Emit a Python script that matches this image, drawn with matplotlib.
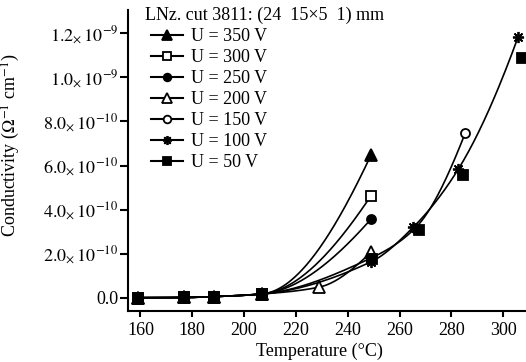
import numpy as np
import matplotlib.pyplot as plt
from matplotlib.lines import Line2D

plt.rcParams['font.family'] = 'Liberation Serif'
plt.rcParams['mathtext.fontset'] = 'stix'

# conductivity values in units of 1e-10 (Ohm^-1 cm^-1)
t_350 = [159, 177, 188.5, 207, 249]
c_350 = [0.0, 0.01, 0.05, 0.17, 6.48]
t_300 = [159, 177, 188.5, 207, 249]
c_300 = [0.0, 0.01, 0.05, 0.17, 4.63]
t_250 = [159, 177, 188.5, 207, 249]
c_250 = [0.0, 0.01, 0.05, 0.17, 3.57]
t_200 = [159, 177, 188.5, 207, 229, 249]
c_200 = [0.0, 0.01, 0.05, 0.17, 0.48, 2.06]
t_150 = [159, 177, 188.5, 207, 249, 266, 285.3]
c_150 = [0.0, 0.01, 0.05, 0.17, 1.80, 3.15, 7.46]
t_100 = [159, 177, 188.5, 207, 249, 265.3, 282.7, 305.8]
c_100 = [0.0, 0.01, 0.05, 0.17, 1.63, 3.20, 5.84, 11.85]
t_50 = [159, 177, 188.5, 207, 249.4, 267.6, 284.6, 307.2]
c_50 = [0.0, 0.01, 0.05, 0.17, 1.74, 3.07, 5.57, 10.87]

labels = ['U = 350 V', 'U = 300 V', 'U = 250 V', 'U = 200 V',
          'U = 150 V', 'U = 100 V', 'U = 50 V']
y_ticks = [0, 2, 4, 6, 8, 10, 12]
y_ticklabels = ['0.0', r'$2.0_{\times}\,10^{-10}$', r'$4.0_{\times}\,10^{-10}$',
                r'$6.0_{\times}\,10^{-10}$', r'$8.0_{\times}\,10^{-10}$',
                r'$1.0_{\times}\,10^{-9}$', r'$1.2_{\times}\,10^{-9}$']
x_ticks = [160, 180, 200, 220, 240, 260, 280, 300]


def pchip(x, y, num=300):
    # monotone cubic curve through the points (drawing only)
    x = np.asarray(x, float)
    y = np.asarray(y, float)
    h = np.diff(x)
    d = np.diff(y) / h
    m = np.zeros_like(x)
    for k in range(1, len(x) - 1):
        if d[k - 1] * d[k] > 0:
            w1 = 2 * h[k] + h[k - 1]
            w2 = h[k] + 2 * h[k - 1]
            m[k] = (w1 + w2) / (w1 / d[k - 1] + w2 / d[k])

    def end(h0, h1, d0, d1):
        mm = ((2 * h0 + h1) * d0 - h0 * d1) / (h0 + h1)
        if np.sign(mm) != np.sign(d0):
            mm = 0.0
        elif np.sign(d0) != np.sign(d1) and abs(mm) > abs(3 * d0):
            mm = 3 * d0
        return mm

    m[0] = end(h[0], h[1], d[0], d[1])
    m[-1] = end(h[-1], h[-2], d[-1], d[-2])
    xs = np.linspace(x[0], x[-1], num)
    idx = np.clip(np.searchsorted(x, xs) - 1, 0, len(h) - 1)
    t = (xs - x[idx]) / h[idx]
    h00 = 2 * t**3 - 3 * t**2 + 1
    h10 = t**3 - 2 * t**2 + t
    h01 = -2 * t**3 + 3 * t**2
    h11 = t**3 - t**2
    ys = h00 * y[idx] + h10 * h[idx] * m[idx] + h01 * y[idx + 1] + h11 * h[idx] * m[idx + 1]
    return xs, ys


fig = plt.figure(figsize=(5.26, 3.62), dpi=100)
ax = fig.add_axes([0.2433, 0.1417, 0.7567, 0.8307])

# (x, y, marker style, legend marker size, draw curve)
series = [
    (t_350, c_350, dict(marker='^', ms=8, mfc='k'), 6.5, True),
    (t_300, c_300, dict(marker='s', ms=6.5, mfc='w'), 5.5, True),
    (t_250, c_250, dict(marker='o', ms=6.5, mfc='k'), 5.5, True),
    (t_200, c_200, dict(marker='^', ms=8, mfc='w'), 6.5, True),
    (t_150, c_150, dict(marker='o', ms=6.5, mfc='w'), 5.5, True),
    (t_100, c_100, dict(marker=(8, 2, 0), ms=8, mfc='k'), 6.5, True),
    (t_50, c_50, dict(marker='s', ms=7, mfc='k'), 6, False),
]

handles = []
for (t, c, mk, leg_ms, with_line), lab in zip(series, labels):
    if with_line:
        xs, ys = pchip(t, c)
        ax.plot(xs, ys, color='k', lw=1.2, clip_on=False)
    ax.plot(t, c, ls='none', color='k', mec='k', mew=1.3, clip_on=False, zorder=3, **mk)
    hk = dict(mk)
    hk['ms'] = leg_ms
    handles.append(Line2D([], [], color='k', lw=1.5, mec='k', mew=1.3, **hk))

ax.set_xlim(155.2, 308.8)
ax.set_ylim(-0.59, 13.06)
ax.set_xticks(x_ticks)
ax.set_yticks(y_ticks)
ax.set_yticklabels(y_ticklabels)
ax.spines['top'].set_visible(False)
ax.spines['right'].set_visible(False)
ax.spines['left'].set_linewidth(1.5)
ax.spines['bottom'].set_linewidth(1.5)
ax.tick_params(axis='x', direction='out', length=4.5, width=1.5, pad=3.5, labelsize=13)
ax.tick_params(axis='y', direction='out', length=5.8, width=1.5, pad=1.2, labelsize=13)

ax.set_xlabel('Temperature (°C)', fontsize=13)
ax.set_ylabel(r'Conductivity ($\Omega^{-1}$ cm$^{-1}$)', fontsize=13)
ax.xaxis.set_label_coords(0.48, -0.108)
ax.yaxis.set_label_coords(-0.267, 0.551)

fig.text(145 / 526, 1 - 15 / 362, 'LNz. cut 3811: (24  15×5  1) mm',
         fontsize=13, ha='left', va='center')
fig.legend(handles, labels, loc='upper left', bbox_to_anchor=(151 / 526, 1 - 28 / 362),
           frameon=False, fontsize=13, borderpad=0, borderaxespad=0,
           handlelength=1.75, handletextpad=0.45, labelspacing=0.22)

fig.savefig('out.png', dpi=100)
